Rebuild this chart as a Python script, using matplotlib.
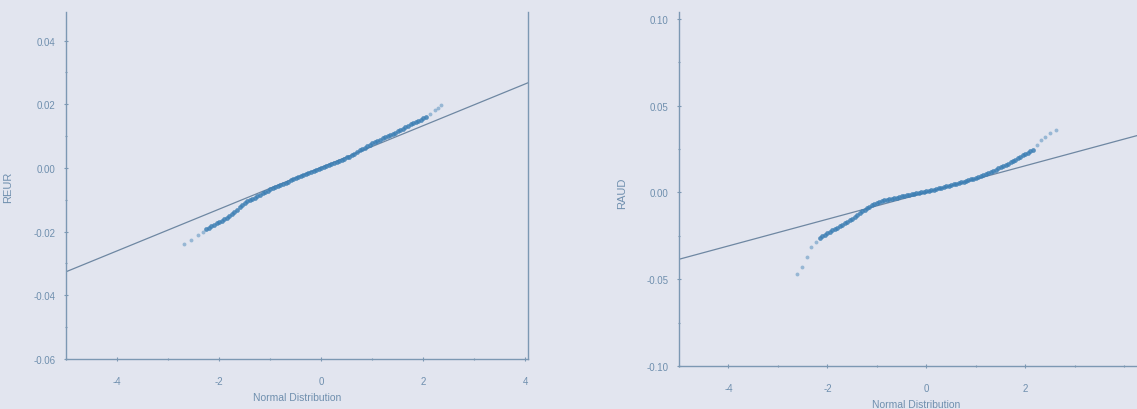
import matplotlib
matplotlib.use("Agg")
import matplotlib.pyplot as plt
from matplotlib.ticker import MultipleLocator, FormatStrFormatter

# Normal Q-Q plots of daily returns: REUR and RAUD against the normal distribution

# REUR: theoretical normal quantiles and ordered sample values
reur_theoretical = [
    -2.25, -2.20, -2.15, -2.10, -2.05, -2.00, -1.95, -1.90, -1.85, -1.80,
    -1.75, -1.70, -1.65, -1.60, -1.55, -1.50, -1.45, -1.40, -1.35, -1.30,
    -1.25, -1.20, -1.15, -1.10, -1.05, -1.00, -0.95, -0.90, -0.85, -0.80,
    -0.75, -0.70, -0.65, -0.60, -0.55, -0.50, -0.45, -0.40, -0.35, -0.30,
    -0.25, -0.20, -0.15, -0.10, -0.05, 0.00, 0.05, 0.10, 0.15, 0.20,
    0.25, 0.30, 0.35, 0.40, 0.45, 0.50, 0.55, 0.60, 0.65, 0.70,
    0.75, 0.80, 0.85, 0.90, 0.95, 1.00, 1.05, 1.10, 1.15, 1.20,
    1.25, 1.30, 1.35, 1.40, 1.45, 1.50, 1.55, 1.60, 1.65, 1.70,
    1.75, 1.80, 1.85, 1.90, 1.95, 2.00, 2.05]
reur_sample = [
    -0.0192, -0.0188, -0.0183, -0.0179, -0.0174, -0.0170, -0.0165, -0.0160, -0.0156, -0.0151,
    -0.0145, -0.0139, -0.0132, -0.0124, -0.0117, -0.0111, -0.0105, -0.0101, -0.0097, -0.0093,
    -0.0089, -0.0084, -0.0080, -0.0075, -0.0071, -0.0067, -0.0063, -0.0059, -0.0056, -0.0053,
    -0.0050, -0.0046, -0.0043, -0.0039, -0.0036, -0.0032, -0.0029, -0.0025, -0.0022, -0.0018,
    -0.0015, -0.0012, -0.0009, -0.0005, -0.0002, 0.0001, 0.0004, 0.0007, 0.0010, 0.0013,
    0.0016, 0.0019, 0.0022, 0.0026, 0.0029, 0.0033, 0.0036, 0.0040, 0.0045, 0.0050,
    0.0055, 0.0059, 0.0064, 0.0068, 0.0073, 0.0077, 0.0081, 0.0085, 0.0089, 0.0093,
    0.0097, 0.0100, 0.0104, 0.0107, 0.0111, 0.0115, 0.0119, 0.0124, 0.0128, 0.0133,
    0.0137, 0.0141, 0.0145, 0.0149, 0.0152, 0.0156, 0.0160]
# isolated extreme observations in both tails
reur_tail_theoretical = [-2.69, -2.55, -2.42, -2.32, 2.13, 2.22, 2.29, 2.34]
reur_tail_sample = [-0.0238, -0.0226, -0.0212, -0.0200, 0.0170, 0.0182, 0.0190, 0.0197]
reur_fit = (0.0002, 0.00656)   # intercept, slope of the reference line

# RAUD: theoretical normal quantiles and ordered sample values
raud_theoretical = [
    -2.15, -2.10, -2.05, -2.00, -1.95, -1.90, -1.85, -1.80, -1.75, -1.70,
    -1.65, -1.60, -1.55, -1.50, -1.45, -1.40, -1.35, -1.30, -1.25, -1.20,
    -1.15, -1.10, -1.05, -1.00, -0.95, -0.90, -0.85, -0.80, -0.75, -0.70,
    -0.65, -0.60, -0.55, -0.50, -0.45, -0.40, -0.35, -0.30, -0.25, -0.20,
    -0.15, -0.10, -0.05, 0.00, 0.05, 0.10, 0.15, 0.20, 0.25, 0.30,
    0.35, 0.40, 0.45, 0.50, 0.55, 0.60, 0.65, 0.70, 0.75, 0.80,
    0.85, 0.90, 0.95, 1.00, 1.05, 1.10, 1.15, 1.20, 1.25, 1.30,
    1.35, 1.40, 1.45, 1.50, 1.55, 1.60, 1.65, 1.70, 1.75, 1.80,
    1.85, 1.90, 1.95, 2.00, 2.05, 2.10, 2.15]
raud_sample = [
    -0.0262, -0.0253, -0.0245, -0.0236, -0.0228, -0.0219, -0.0211, -0.0203, -0.0195, -0.0186,
    -0.0178, -0.0169, -0.0160, -0.0150, -0.0140, -0.0129, -0.0118, -0.0108, -0.0099, -0.0091,
    -0.0083, -0.0075, -0.0068, -0.0061, -0.0055, -0.0050, -0.0046, -0.0042, -0.0039, -0.0035,
    -0.0032, -0.0029, -0.0026, -0.0023, -0.0020, -0.0017, -0.0014, -0.0011, -0.0008, -0.0005,
    -0.0002, 0.0001, 0.0004, 0.0008, 0.0011, 0.0014, 0.0017, 0.0021, 0.0024, 0.0028,
    0.0031, 0.0035, 0.0038, 0.0042, 0.0046, 0.0050, 0.0054, 0.0058, 0.0062, 0.0066,
    0.0070, 0.0075, 0.0079, 0.0084, 0.0089, 0.0094, 0.0100, 0.0106, 0.0112, 0.0118,
    0.0125, 0.0132, 0.0139, 0.0145, 0.0152, 0.0159, 0.0166, 0.0174, 0.0181, 0.0189,
    0.0197, 0.0205, 0.0214, 0.0221, 0.0229, 0.0237, 0.0245]
raud_tail_theoretical = [-2.62, -2.52, -2.42, -2.33, -2.24, 2.24, 2.31, 2.40, 2.50, 2.61]
raud_tail_sample = [-0.0467, -0.0430, -0.0370, -0.0313, -0.0285, 0.0275, 0.0300, 0.0320, 0.0340, 0.0360]
raud_fit = (0.0, 0.0077)

reur_xticks = [-4, -2, 0, 2, 4]
raud_xticks = [-4, -2, 0, 2]

W, H = 1137, 410
PAPER = "#e2e5ef"
INK = "#6f8fae"
SPINE = "#7c98b3"
LINE = "#6e87a2"
DOTS = "#3d7fb4"

plt.rcParams["font.family"] = ["Liberation Sans", "DejaVu Sans"]
plt.rcParams["axes.unicode_minus"] = False

fig = plt.figure(figsize=(W / 100, H / 100), dpi=100, facecolor=PAPER)


def px_axes(left, top, right, bottom):
    return fig.add_axes([left / W, 1 - bottom / H, (right - left) / W, (bottom - top) / H])


def style(ax, ylabel, ylab_px, xticks, y_major, y_minor, show_right):
    ax.set_facecolor(PAPER)
    ax.spines["top"].set_visible(False)
    ax.spines["right"].set_visible(show_right)
    for side in ("left", "bottom", "right"):
        ax.spines[side].set_color(SPINE)
        ax.spines[side].set_linewidth(1.0)
    ax.set_xticks(xticks)
    ax.xaxis.set_minor_locator(MultipleLocator(1))
    ax.yaxis.set_major_locator(MultipleLocator(y_major))
    ax.yaxis.set_minor_locator(MultipleLocator(y_minor))
    ax.yaxis.set_major_formatter(FormatStrFormatter("%.2f"))
    ax.tick_params(axis="both", which="both", colors=SPINE, labelcolor=INK,
                   direction="inout", labelsize=7)
    ax.tick_params(axis="both", which="major", length=3, width=0.8)
    ax.tick_params(axis="both", which="minor", length=2, width=0.8)
    ax.tick_params(axis="x", which="major", pad=11)
    ax.tick_params(axis="y", which="major", pad=6)
    ax.set_xlabel("Normal Distribution", color=INK, fontsize=7.5, labelpad=4)
    ax.set_ylabel(ylabel, color=INK, fontsize=8)
    ax.yaxis.set_label_coords(ylab_px[0] / W, 1 - ylab_px[1] / H, transform=fig.transFigure)


def qq(ax, fit, theo, samp, tail_theo, tail_samp):
    xs = list(ax.get_xlim())
    ax.plot(xs, [fit[0] + fit[1] * x for x in xs], color=LINE, lw=0.9, zorder=2)
    ax.plot(theo, samp, "o", ms=3.4, mec="none", mfc=DOTS, alpha=0.85, zorder=3)
    ax.plot(tail_theo, tail_samp, "o", ms=2.8, mec="none", mfc=DOTS, alpha=0.45, zorder=3)


# left panel: REUR
ax1 = px_axes(66, 13, 528, 360)
ax1.set_xlim(-5.0, 4.05)
ax1.set_ylim(-0.06, 0.049)
qq(ax1, reur_fit, reur_theoretical, reur_sample, reur_tail_theoretical, reur_tail_sample)
style(ax1, "REUR", (13, 187), reur_xticks, 0.02, 0.01, True)

# right panel: RAUD
ax2 = px_axes(679, 13, 1154, 367)
ax2.set_xlim(-5.0, 4.6)
ax2.set_ylim(-0.10, 0.104)
qq(ax2, raud_fit, raud_theoretical, raud_sample, raud_tail_theoretical, raud_tail_sample)
style(ax2, "RAUD", (627, 193), raud_xticks, 0.05, 0.025, False)

fig.savefig("out.png", dpi=100, facecolor=PAPER)
